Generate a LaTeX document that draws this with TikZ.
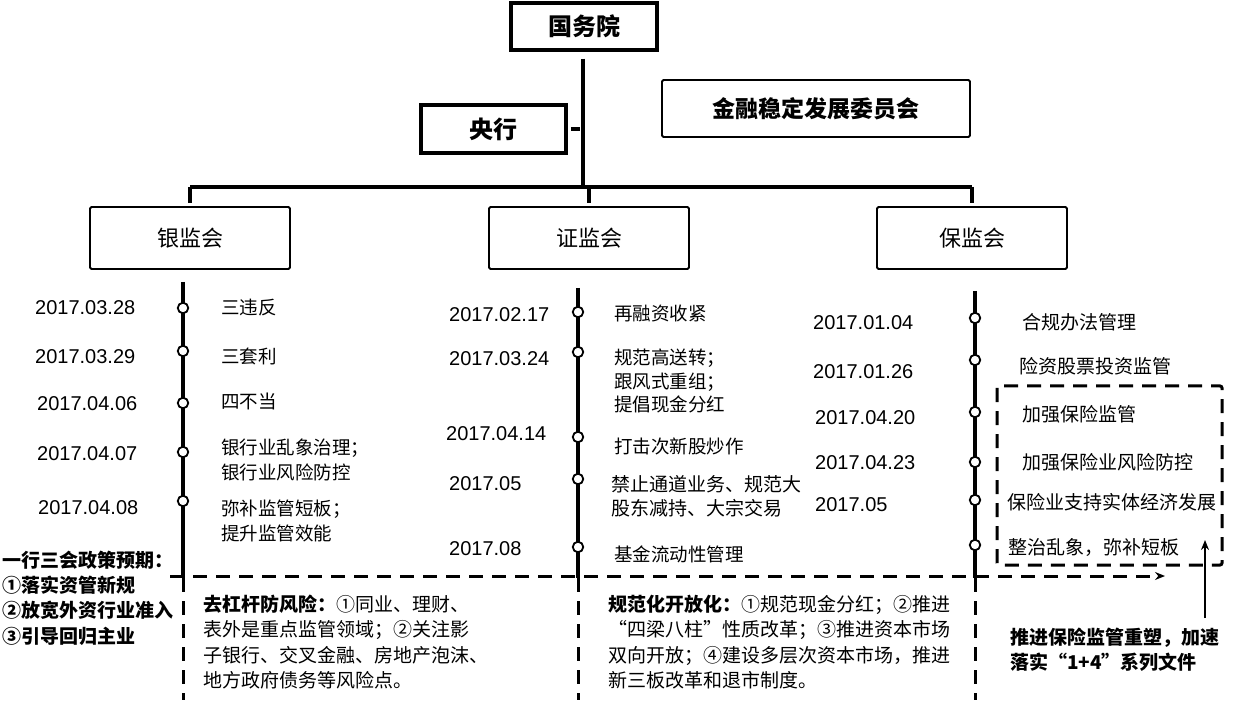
\documentclass[tikz,border=0pt]{standalone}
\usepackage{fontspec}
\setmainfont{Noto Sans CJK SC}
\newfontfamily\datefont{Liberation Sans}
\usetikzlibrary{arrows.meta}
\begin{document}
\begin{tikzpicture}[x=1pt,y=-1pt,
  thickbox/.style={draw, line width=3.5pt, inner sep=0pt, font=\bfseries\fontsize{24}{28}\selectfont},
  box/.style={draw, line width=1.8pt, rounded corners=1.5pt, inner sep=0pt},
  dot/.style={circle, draw, fill=white, line width=1.8pt, minimum size=10.5pt, inner sep=0pt},
  tl/.style={line width=3.4pt},
  dsh/.style={line width=3pt, dash pattern=on 14pt off 9pt},
  dt/.style={font=\datefont\fontsize{20}{24}\selectfont, anchor=west, inner sep=0pt},
  it/.style={font=\fontsize{18.5}{24.5}\selectfont, anchor=west, align=left, inner sep=0pt},
  bt/.style={font=\bfseries\fontsize{19}{25.3}\selectfont, anchor=west, align=left, inner sep=0pt},
  pt/.style={font=\fontsize{19}{25.3}\selectfont, anchor=west, align=left, inner sep=0pt},
  arr/.style={-{Stealth[length=10pt,width=8pt]}}]
\useasboundingbox (0,0) rectangle (1234,708);

% top boxes
\node[thickbox, minimum width=146pt, minimum height=47pt] (gwy) at (584,26.5) {国务院};
\node[thickbox, minimum width=145pt, minimum height=48pt] (yh) at (493.5,129) {央行};
\node[box, minimum width=308pt, minimum height=57pt, font=\bfseries\fontsize{23}{26}\selectfont] (jw) at (816,108.5) {金融稳定发展委员会};

% second level boxes
\node[box, minimum width=200pt, minimum height=62pt, font=\fontsize{22}{26}\selectfont] (yjh) at (190,238) {银监会};
\node[box, minimum width=200pt, minimum height=62pt, font=\fontsize{22}{26}\selectfont] (zjh) at (589,238) {证监会};
\node[box, minimum width=190pt, minimum height=62pt, font=\fontsize{22}{26}\selectfont] (bjh) at (972,238) {保监会};

% tree connectors
\coordinate (hub) at (583,187);
\draw[tl] ([yshift=-7pt]gwy.south -| hub) -- (hub);
\draw[tl] ([xshift=3pt]yh.east) -- ([xshift=-3pt]yh.east -| hub);
\draw[line width=4pt] (yjh.north |- hub) -- (bjh.north |- hub);
\draw[tl] (yjh.north |- hub) -- ([yshift=3pt]yjh.north);
\draw[tl] (zjh.north |- hub) -- ([yshift=3pt]zjh.north);
\draw[tl] (bjh.north |- hub) -- ([yshift=3pt]bjh.north);

% timelines
\coordinate (L0) at (183,282); \coordinate (L1) at (183,578); \coordinate (L2) at (183,700);
\coordinate (M0) at (578,288); \coordinate (M1) at (578,578); \coordinate (M2) at (578,700);
\coordinate (R0) at (975,291); \coordinate (R1) at (975,578); \coordinate (R2) at (975,700);
\draw[tl] (L0) -- (L1); \draw[dsh] (L1) -- (L2);
\draw[tl] (M0) -- (M1); \draw[dsh] (M1) -- (M2);
\draw[tl] (R0) -- (R1); \draw[dsh] (R1) -- (R2);

% horizontal dashed line with arrow
\coordinate (hd0) at (170,576);
\coordinate (hd1) at (1165,576);
\draw[dsh, arr] (hd0) -- (hd1);

% right dashed box
\draw[dsh, rounded corners=2pt] (997,386) rectangle (1222,565);

% left column
\foreach \y [count=\i] in {308,351,403,452,501} \node[dot] (ld\i) at (183,\y) {};
\node[dt] (lt1) at (35,308) {2017.03.28};
\node[dt] (lt2) at (35,357) {2017.03.29};
\node[dt] (lt3) at (37,404) {2017.04.06};
\node[dt] (lt4) at (37,454) {2017.04.07};
\node[dt] (lt5) at (38,508) {2017.04.08};
\node[it] (lx1) at (221,308) {三违反};
\node[it] (lx2) at (221,356) {三套利};
\node[it] (lx3) at (221,401) {四不当};
\node[it] (lx4) at (221,460) {银行业乱象治理；\\银行业风险防控};
\node[it] (lx5) at (221,521) {弥补监管短板；\\提升监管效能};

% middle column
\foreach \y [count=\i] in {312,352,437,479,547} \node[dot] (md\i) at (578,\y) {};
\node[dt] (mt1) at (449,315) {2017.02.17};
\node[dt] (mt2) at (449,359) {2017.03.24};
\node[dt] (mt3) at (446,434) {2017.04.14};
\node[dt] (mt4) at (449,484) {2017.05};
\node[dt] (mt5) at (449,549) {2017.08};
\node[it] (mx1) at (614,313) {再融资收紧};
\node[it, font=\fontsize{18.5}{23.5}\selectfont] (mx2) at (614,381) {规范高送转；\\跟风式重组；\\提倡现金分红};
\node[it] (mx3) at (614,446) {打击次新股炒作};
\node[it, font=\fontsize{19}{24}\selectfont] (mx4) at (611,496) {禁止通道业务、规范大\\股东减持、大宗交易};
\node[it] (mx5) at (614,554) {基金流动性管理};

% right column
\foreach \y [count=\i] in {318,360,412,462,500,545} \node[dot] (rd\i) at (975,\y) {};
\node[dt] (rt1) at (813,323) {2017.01.04};
\node[dt] (rt2) at (813,372) {2017.01.26};
\node[dt] (rt3) at (815,418) {2017.04.20};
\node[dt] (rt4) at (815,463) {2017.04.23};
\node[dt] (rt5) at (815,505) {2017.05};
\node[pt] (rx1) at (1022,322) {合规办法管理};
\node[pt] (rx2) at (1019,366) {险资股票投资监管};
\node[pt] (rx3) at (1022,414) {加强保险监管};
\node[pt] (rx4) at (1022,462) {加强保险业风险防控};
\node[pt] (rx5) at (1007,502) {保险业支持实体经济发展};
\node[pt] (rx6) at (1008,547) {整治乱象，弥补短板};

% bottom blocks
\node[bt] (pol) at (2,598) {一行三会政策预期：\\①落实资管新规\\②放宽外资行业准入\\③引导回归主业};
\node[pt] (blk1) at (203,642) {\textbf{去杠杆防风险：}①同业、理财、\\表外是重点监管领域；②关注影\\子银行、交叉金融、房地产泡沫、\\地方政府债务等风险点。};
\node[pt] (blk2) at (608,642) {\textbf{规范化开放化：}①规范现金分红；②推进\\“四梁八柱”性质改革；③推进资本市场\\双向开放；④建设多层次资本市场，推进\\新三板改革和退市制度。};
\node[bt] (blk3) at (1010,650) {推进保险监管重塑，加速\\落实“1+4”系列文件};

% upward arrow
\coordinate (ua0) at (1205,618);
\coordinate (ua1) at (1205,540);
\draw[line width=2.6pt, arr] (ua0) -- (ua1);
\end{tikzpicture}
\end{document}
